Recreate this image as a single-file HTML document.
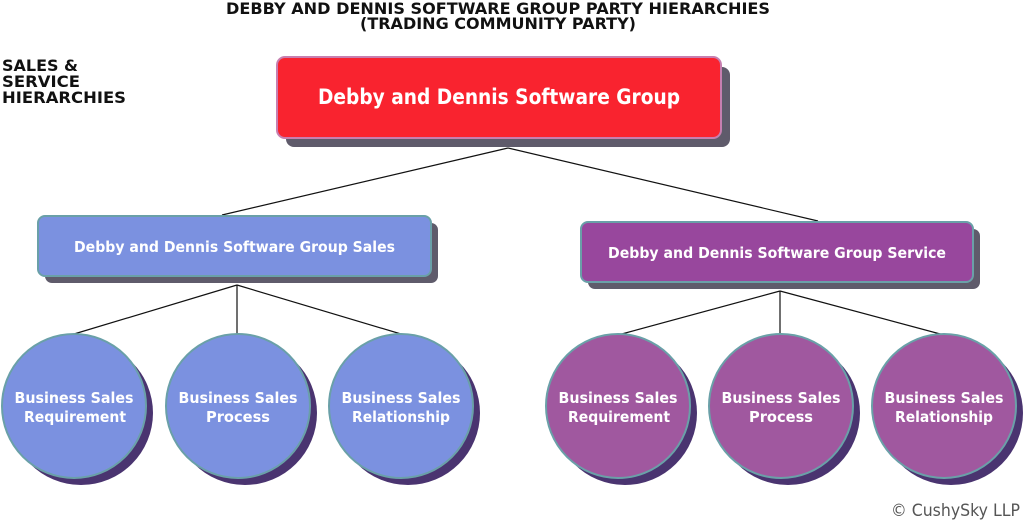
<!DOCTYPE html>
<html><head><meta charset="utf-8"><style>
body{margin:0;width:1024px;height:522px;background:#fff;overflow:hidden;font-family:"Liberation Sans",sans-serif}
</style></head><body>
<svg width="1024" height="522" xmlns="http://www.w3.org/2000/svg" font-family="DejaVu Sans, sans-serif" font-weight="bold">
<text x="226" y="14" font-size="16" textLength="544" lengthAdjust="spacingAndGlyphs" fill="#111">DEBBY AND DENNIS SOFTWARE GROUP PARTY HIERARCHIES</text>
<text x="360" y="29" font-size="16" textLength="276" lengthAdjust="spacingAndGlyphs" fill="#111">(TRADING COMMUNITY PARTY)</text>
<text x="2" y="71" font-size="16" textLength="76" lengthAdjust="spacingAndGlyphs" fill="#111">SALES &amp;</text>
<text x="2" y="87" font-size="16" textLength="78" lengthAdjust="spacingAndGlyphs" fill="#111">SERVICE</text>
<text x="2" y="103" font-size="16" textLength="124" lengthAdjust="spacingAndGlyphs" fill="#111">HIERARCHIES</text>
<g stroke="#111" stroke-width="1.2">
<line x1="508" y1="148" x2="222" y2="215"/><line x1="508" y1="148" x2="818" y2="221"/>
<line x1="237" y1="285" x2="74" y2="334"/><line x1="237" y1="285" x2="237" y2="334"/><line x1="237" y1="285" x2="401" y2="334"/>
<line x1="780" y1="291" x2="618" y2="335"/><line x1="780" y1="291" x2="780" y2="335"/><line x1="780" y1="291" x2="944" y2="335"/>
</g>
<rect x="286" y="67" width="444" height="80" rx="8" fill="#5f5b6b"/>
<rect x="277" y="57" width="444" height="81" rx="8" fill="#f9232f" stroke="#c77fb0" stroke-width="2"/>
<text x="318" y="104" font-size="21" textLength="362" lengthAdjust="spacingAndGlyphs" fill="#fff">Debby and Dennis Software Group</text>
<rect x="45" y="223" width="393" height="60" rx="7" fill="#5f5b6b"/>
<rect x="38" y="216" width="393" height="60" rx="7" fill="#7b91e0" stroke="#6aa0a8" stroke-width="2"/>
<text x="74" y="252" font-size="15.5" textLength="321" lengthAdjust="spacingAndGlyphs" fill="#fff">Debby and Dennis Software Group Sales</text>
<rect x="588" y="229" width="392" height="60" rx="7" fill="#5f5b6b"/>
<rect x="581" y="222" width="392" height="60" rx="7" fill="#98479d" stroke="#6aa0a8" stroke-width="2"/>
<text x="608" y="258" font-size="15.5" textLength="338" lengthAdjust="spacingAndGlyphs" fill="#fff">Debby and Dennis Software Group Service</text>
<g font-size="15.5" text-anchor="middle" fill="#fff">
<circle cx="81" cy="413" r="72" fill="#4a3470"/><circle cx="74" cy="406" r="72" fill="#7b91e0" stroke="#6aa0a8" stroke-width="2"/>
<text x="74" y="403" textLength="119" lengthAdjust="spacingAndGlyphs">Business Sales</text><text x="75" y="422" textLength="102" lengthAdjust="spacingAndGlyphs">Requirement</text>
<circle cx="245" cy="413" r="72" fill="#4a3470"/><circle cx="238" cy="406" r="72" fill="#7b91e0" stroke="#6aa0a8" stroke-width="2"/>
<text x="238" y="403" textLength="119" lengthAdjust="spacingAndGlyphs">Business Sales</text><text x="238" y="422" textLength="64" lengthAdjust="spacingAndGlyphs">Process</text>
<circle cx="408" cy="413" r="72" fill="#4a3470"/><circle cx="401" cy="406" r="72" fill="#7b91e0" stroke="#6aa0a8" stroke-width="2"/>
<text x="401" y="403" textLength="119" lengthAdjust="spacingAndGlyphs">Business Sales</text><text x="401" y="422" textLength="98" lengthAdjust="spacingAndGlyphs">Relationship</text>
<circle cx="625" cy="413" r="72" fill="#4a3470"/><circle cx="618" cy="406" r="72" fill="#a0589f" stroke="#6aa0a8" stroke-width="2"/>
<text x="618" y="403" textLength="119" lengthAdjust="spacingAndGlyphs">Business Sales</text><text x="619" y="422" textLength="102" lengthAdjust="spacingAndGlyphs">Requirement</text>
<circle cx="788" cy="413" r="72" fill="#4a3470"/><circle cx="781" cy="406" r="72" fill="#a0589f" stroke="#6aa0a8" stroke-width="2"/>
<text x="781" y="403" textLength="119" lengthAdjust="spacingAndGlyphs">Business Sales</text><text x="781" y="422" textLength="64" lengthAdjust="spacingAndGlyphs">Process</text>
<circle cx="951" cy="413" r="72" fill="#4a3470"/><circle cx="944" cy="406" r="72" fill="#a0589f" stroke="#6aa0a8" stroke-width="2"/>
<text x="944" y="403" textLength="119" lengthAdjust="spacingAndGlyphs">Business Sales</text><text x="944" y="422" textLength="98" lengthAdjust="spacingAndGlyphs">Relationship</text>
</g>
<text x="891" y="516" font-size="17" font-weight="normal" textLength="129" lengthAdjust="spacingAndGlyphs" fill="#555">© CushySky LLP</text>
</svg>
</body></html>
